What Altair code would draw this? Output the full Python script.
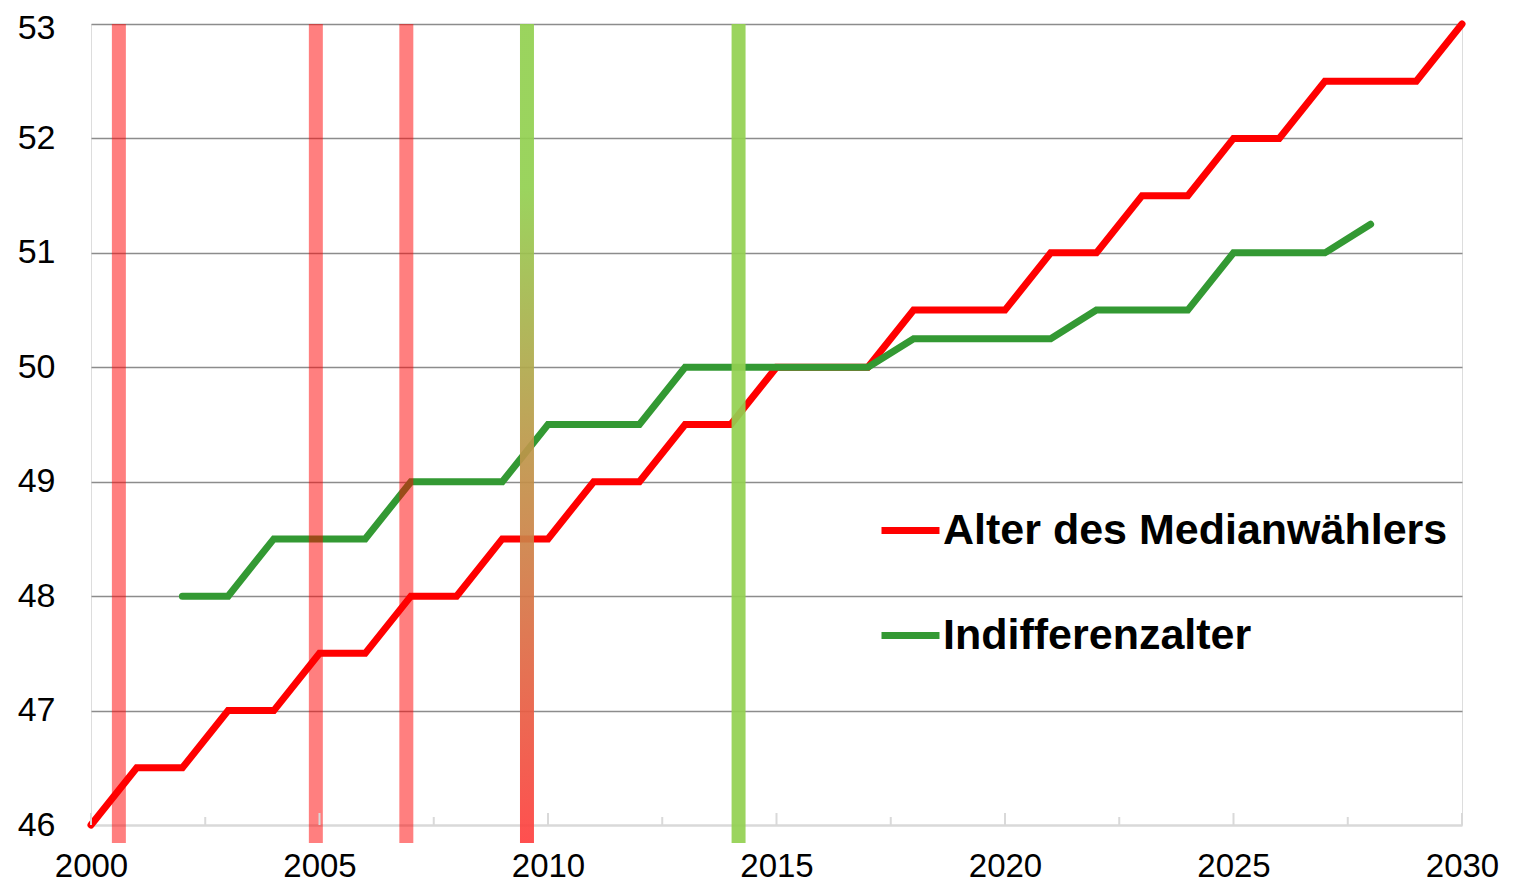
import altair as alt
import pandas as pd

# ---- data ----
years = list(range(2000, 2031))
median_voter = [46, 46.5, 46.5, 47, 47, 47.5, 47.5, 48, 48, 48.5, 48.5, 49, 49, 49.5, 49.5,
                50, 50, 50, 50.5, 50.5, 50.5, 51, 51, 51.5, 51.5, 52, 52, 52.5, 52.5, 52.5, 53]
indiff_years = list(range(2002, 2029))
indiff_age = [48, 48, 48.5, 48.5, 48.5, 49, 49, 49, 49.5, 49.5, 49.5, 50, 50, 50, 50, 50,
              50.25, 50.25, 50.25, 50.25, 50.5, 50.5, 50.5, 51, 51, 51, 51.25]

red_band_years = [2000.61, 2004.92, 2006.9]
mixed_band_years = [2009.54]
green_band_years = [2014.17]
major_ticks = [2000, 2005, 2010, 2015, 2020, 2025, 2030]
minor_ticks = [2002.5, 2007.5, 2012.5, 2017.5, 2022.5, 2027.5]
y_ticks = [46, 47, 48, 49, 50, 51, 52, 53]

S1 = "Alter des Medianwählers"
S2 = "Indifferenzalter"

W, H = 1371, 801
HALF = 0.153  # half band width in years

lines_df = pd.concat([
    pd.DataFrame({"Jahr": years, "Alter": median_voter, "Serie": S1}),
    pd.DataFrame({"Jahr": indiff_years, "Alter": indiff_age, "Serie": S2}),
])

xscale = alt.Scale(domain=[2000, 2030], nice=False, zero=False)
yscale = alt.Scale(domain=[46, 53], nice=False, zero=False)

FONT = "Liberation Sans"

lines = alt.Chart(lines_df).mark_line(strokeWidth=7, strokeCap="round").encode(
    x=alt.X("Jahr:Q", scale=xscale,
            axis=alt.Axis(values=major_ticks, format="d", title=None, ticks=False, tickSize=0,
                          labelFontSize=33, labelFont=FONT, labelColor="#000000",
                          labelPadding=25, domainColor="#d9d9d9", domainWidth=2.5,
                          grid=False, labelFlush=False)),
    y=alt.Y("Alter:Q", scale=yscale,
            axis=alt.Axis(values=y_ticks, title=None, domain=False,
                          ticks=False, tickSize=0, labelFontSize=34, labelFont=FONT,
                          labelColor="#000000", labelPadding=36, grid=True, labelFlush=False,
                          labelOffset={"condition": {"test": "datum.value === 53", "value": 4},
                                       "value": 0},
                          gridColor={"condition": {"test": "datum.value === 46", "value": "transparent"},
                                     "value": "#8c8c8c"},
                          gridWidth=1.6)),
    color=alt.Color("Serie:N",
                    scale=alt.Scale(domain=[S1, S2], range=["#ff0000", "#339933"]),
                    legend=alt.Legend(title=None, orient="none", legendX=787, legendY=474,
                                      symbolType="stroke", symbolSize=3364, symbolStrokeWidth=7,
                                      labelFont=FONT, labelFontWeight="bold", labelFontSize=43,
                                      labelColor="#000000", labelOffset=0, rowPadding=50,
                                      labelLimit=800)),
    order=alt.Order("Jahr:Q"),
)

def bands(vals):
    df = pd.DataFrame({"Jahr": vals})
    return alt.Chart(df).transform_calculate(
        x0=f"datum.Jahr - {HALF}", x1=f"datum.Jahr + {HALF}"
    )

red_bands = bands(red_band_years).mark_rect(color="#ff0000", opacity=0.5).encode(
    x=alt.X("x0:Q", scale=xscale), x2="x1:Q",
    y=alt.value(0), y2=alt.value(H + 18))

green_bands = bands(green_band_years).mark_rect(color="#92d050", opacity=0.92).encode(
    x=alt.X("x0:Q", scale=xscale), x2="x1:Q",
    y=alt.value(0), y2=alt.value(H + 18))

grad = alt.LinearGradient(
    gradient="linear", x1=0, x2=0, y1=0, y2=1,
    stops=[alt.GradientStop(offset=0, color="#92d050"),
           alt.GradientStop(offset=0.2, color="#92d050"),
           alt.GradientStop(offset=1, color="#ff4040")])
mixed_bands = bands(mixed_band_years).mark_rect(fill=grad, opacity=0.92).encode(
    x=alt.X("x0:Q", scale=xscale), x2="x1:Q",
    y=alt.value(0), y2=alt.value(H + 18))

major = alt.Chart(pd.DataFrame({"Jahr": major_ticks})).mark_rule(color="#d9d9d9", strokeWidth=2).encode(
    x=alt.X("Jahr:Q", scale=xscale), y=alt.value(H - 12), y2=alt.value(H))
minor = alt.Chart(pd.DataFrame({"Jahr": minor_ticks})).mark_rule(color="#d9d9d9", strokeWidth=2).encode(
    x=alt.X("Jahr:Q", scale=xscale), y=alt.value(H - 8), y2=alt.value(H))

chart = alt.layer(lines, red_bands, green_bands, mixed_bands, major, minor).properties(
    width=W, height=H,
    autosize=alt.AutoSizeParams(type="none"),
    padding={"left": 83, "top": 16, "right": 45, "bottom": 57},
).configure_view(stroke=None).configure(background="#ffffff")

chart.save("out.html", embed_options={"renderer": "svg", "actions": False})
